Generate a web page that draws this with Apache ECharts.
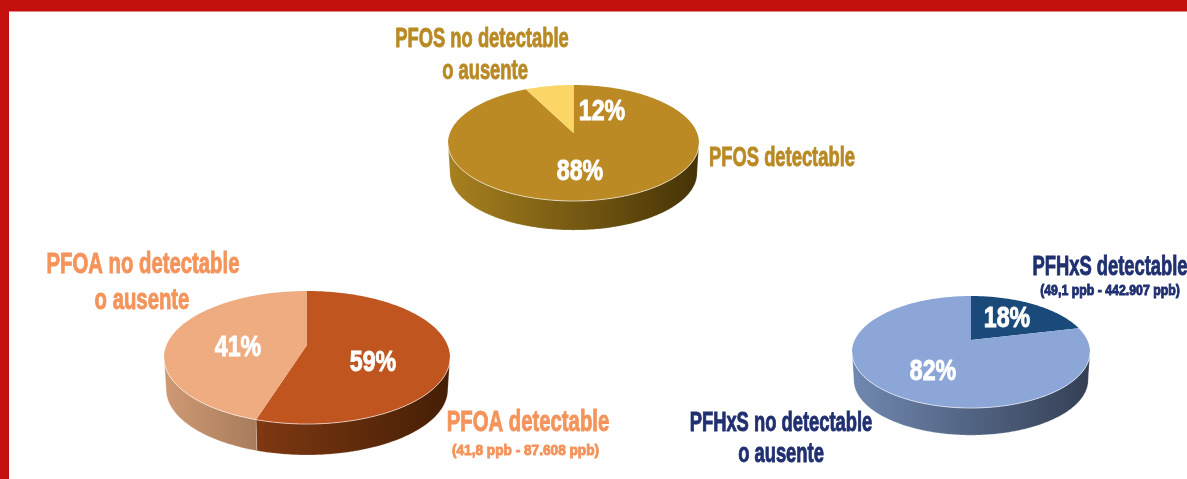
<!DOCTYPE html>
<html>
<head>
<meta charset="utf-8">
<title>PFOS PFOA PFHxS</title>
<script src="https://cdn.jsdelivr.net/npm/echarts@6/dist/echarts.min.js"></script>
<style>
html, body { margin: 0; padding: 0; background: #fff; }
#main { width: 1187px; height: 479px; filter: blur(0.5px); }
</style>
</head>
<body>
<div id="main"></div>
<script>
// slices run clockwise from 12 o'clock
// shares are what the slices measure on the picture, labels are what is printed on them
var pfosShares = [93.8, 6.2]
var pfosLabels = ['88%', '12%']
var pfoaShares = [55.8, 44.2]
var pfoaLabels = ['59%', '41%']
var pfhxsShares = [18, 82]
var pfhxsLabels = ['18%', '82%']

var pies = [
    {
        shares: pfosShares, labels: pfosLabels,
        cx: 573.5, cy: 143, rx: 125.5, ry: 58, depth: 30, apexY: 133,
        top: ['#bb8a24', '#fbd666'],
        wall: [['#a8811f', '#453206'], ['#a8811f', '#453206']],
        labelPos: [[580, 172], [602, 112]]
    },
    {
        shares: pfoaShares, labels: pfoaLabels,
        cx: 307, cy: 357.5, rx: 143, ry: 66.5, depth: 32, apexY: 345,
        top: ['#c05520', '#eeac80'],
        wall: [['#7f3812', '#451f05'], ['#cf9a74', '#a87c5c']],
        labelPos: [[373, 363], [238, 348]]
    },
    {
        shares: pfhxsShares, labels: pfhxsLabels,
        cx: 971, cy: 352, rx: 119, ry: 56, depth: 28, apexY: 340,
        top: ['#1a4a7a', '#8ca6d8'],
        wall: [['#7088b0', '#343f55'], ['#7088b0', '#343f55']],
        labelPos: [[1007, 319], [933, 372]]
    }
]

var orange = '#f4935a'
var gold = '#b98a24'
var navy = '#1f2f70'
var fontFamily = '"Liberation Sans", sans-serif'
// no condensed face is installed, so the text is squeezed with scaleX
var big = { font: 'bold 27px ' + fontFamily, squeeze: 0.68 }
var bigWide = { font: 'bold 29px ' + fontFamily, squeeze: 0.7 }
var small = { font: 'bold 15px ' + fontFamily, squeeze: 0.91 }
var smallTight = { font: 'bold 14px ' + fontFamily, squeeze: 0.88 }
var pct = { font: 'bold 29px ' + fontFamily, squeeze: 0.8 }

var callouts = [
    ['PFOS no detectable', 482, 39.5, gold, big],
    ['o ausente', 485, 71.5, gold, big],
    ['PFOS detectable', 782, 159, gold, big],
    ['PFOA no detectable', 143, 265, orange, bigWide],
    ['o ausente', 142, 301, orange, bigWide],
    ['PFOA detectable', 528, 423, orange, bigWide],
    ['(41,8 ppb - 87.608 ppb)', 525.5, 451, orange, small],
    ['PFHxS detectable', 1110, 268, navy, big],
    ['(49,1 ppb - 442.907 ppb)', 1110, 291, navy, smallTight],
    ['PFHxS no detectable', 781, 424, navy, big],
    ['o ausente', 781, 455, navy, big]
]

function textEl(text, x, y, color, kind) {
    return {
        type: 'text',
        x: x,
        y: y,
        scaleX: kind.squeeze,
        style: {
            text: text,
            x: 0,
            y: 0,
            fill: color,
            stroke: color,
            lineWidth: 0.9,
            font: kind.font,
            align: 'center',
            verticalAlign: 'middle'
        }
    }
}

function rimPoint(pie, deg, drop, shrink) {
    var a = deg * Math.PI / 180
    return [
        pie.cx + pie.rx * shrink * Math.sin(a),
        pie.cy + drop - pie.ry * shrink * Math.cos(a)
    ]
}

function arcPoints(pie, from, to, drop, shrink) {
    var pts = []
    for (var d = from; d < to; d += 1) {
        pts.push(rimPoint(pie, d, drop, shrink))
    }
    pts.push(rimPoint(pie, to, drop, shrink))
    return pts
}

function renderSlice(pie, params, api) {
    var i = params.dataIndex
    var before = 0
    for (var k = 0; k < i; k++) {
        before += pie.shares[k]
    }
    var start = before * 3.6
    var end = (before + api.value(0)) * 3.6
    var children = []

    // side wall, only the part of the slice facing the viewer
    var wallFrom = Math.max(start, 90)
    var wallTo = Math.min(end, 270)
    if (wallTo > wallFrom) {
        var upper = arcPoints(pie, wallFrom, wallTo, 0, 1)
        var lower = arcPoints(pie, wallFrom, wallTo, pie.depth, 0.985).reverse()
        children.push({
            type: 'polygon',
            shape: { points: upper.concat(lower) },
            style: {
                fill: new echarts.graphic.LinearGradient(0, 0, 1, 0, [
                    { offset: 0, color: pie.wall[i][0] },
                    { offset: 1, color: pie.wall[i][1] }
                ]),
                stroke: 'rgba(255,255,255,0.35)',
                lineWidth: 0.6
            }
        })
    }

    // top face
    var apex = [pie.cx, pie.apexY]
    children.push({
        type: 'polygon',
        shape: { points: [apex].concat(arcPoints(pie, start, end, 0, 1)) },
        style: { fill: pie.top[i] }
    })

    // pale edge along the front of the top face
    if (wallTo > wallFrom) {
        children.push({
            type: 'polyline',
            shape: { points: arcPoints(pie, wallFrom, wallTo, 0, 1) },
            style: { fill: null, stroke: 'rgba(255,255,255,0.55)', lineWidth: 1 }
        })
    }

    children.push(textEl(pie.labels[i], pie.labelPos[i][0], pie.labelPos[i][1], '#ffffff', pct))
    return { type: 'group', children: children }
}

var myChart = echarts.init(document.getElementById('main'), null, { renderer: 'canvas' })

var series = pies.map(function (pie) {
    return {
        type: 'custom',
        coordinateSystem: 'none',
        silent: true,
        animation: false,
        data: pie.shares.map(function (s) { return [s] }),
        renderItem: function (params, api) {
            return renderSlice(pie, params, api)
        }
    }
})

var graphics = [
    { type: 'rect', shape: { x: 0, y: 0, width: 1187, height: 11.5 }, style: { fill: '#c4100f' } },
    { type: 'rect', shape: { x: 0, y: 0, width: 9, height: 479 }, style: { fill: '#c4100f' } }
]
callouts.forEach(function (c) {
    graphics.push(textEl(c[0], c[1], c[2], c[3], c[4]))
})

myChart.setOption({
    backgroundColor: '#ffffff',
    animation: false,
    graphic: graphics,
    series: series
})
</script>
</body>
</html>
